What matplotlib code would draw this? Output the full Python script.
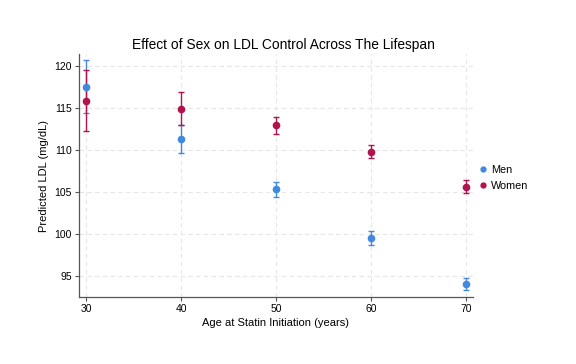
import matplotlib
matplotlib.use("Agg")
import matplotlib.pyplot as plt
from matplotlib.lines import Line2D

plt.rcParams['font.family'] = ['Liberation Sans', 'DejaVu Sans']

ages = [30, 40, 50, 60, 70]
men = [117.5, 111.3, 105.3, 99.5, 94.1]
men_lo = [114.4, 109.6, 104.4, 98.7, 93.3]
men_hi = [120.7, 113.0, 106.2, 100.3, 94.8]
women = [115.8, 114.9, 112.9, 109.8, 105.6]
women_lo = [112.3, 112.9, 111.9, 109.0, 104.9]
women_hi = [119.5, 116.9, 113.9, 110.6, 106.4]
yticks = [95, 100, 105, 110, 115, 120]

men_c = '#4189DD'
women_c = '#B3124E'

fig = plt.figure(figsize=(5.76, 3.64), dpi=100)
ax = fig.add_axes([79/576, 1-297/364, (473-79)/576, (297-54)/364])

for vals, lo, hi, c, lab in [(men, men_lo, men_hi, men_c, 'Men'),
                             (women, women_lo, women_hi, women_c, 'Women')]:
    err = [[v - l for v, l in zip(vals, lo)], [h - v for v, h in zip(vals, hi)]]
    ax.errorbar(ages, vals, yerr=err, fmt='o', color=c, ms=4.5, elinewidth=1,
                capsize=2.5, capthick=1, label=lab, ecolor=c)

ax.set_xlim(29.27, 70.7)
ax.set_ylim(92.5, 121.4)
ax.set_xticks(ages)
ax.set_yticks(yticks)
ax.grid(True, color='#e6e6e6', linestyle=(0, (4, 3)), linewidth=0.8)
ax.set_axisbelow(True)
for s in ['top', 'right']:
    ax.spines[s].set_visible(False)
for s in ['left', 'bottom']:
    ax.spines[s].set_color('#555555')
    ax.spines[s].set_linewidth(0.9)
ax.tick_params(labelsize=7.5, length=3, color='#555555', width=0.8, pad=2)
ax.set_xlabel('Age at Statin Initiation (years)', fontsize=8, labelpad=3)
ax.set_ylabel('Predicted LDL (mg/dL)', fontsize=8, labelpad=4)
fig.text(283/576, 1-45/364, 'Effect of Sex on LDL Control Across The Lifespan',
         ha='center', va='center', fontsize=9.9)

handles = [Line2D([], [], marker='o', linestyle='', color=men_c, ms=3.5),
           Line2D([], [], marker='o', linestyle='', color=women_c, ms=3.5)]
fig.legend(handles, ['Men', 'Women'], loc='center left',
           bbox_to_anchor=(478/576, 1-178/364), frameon=False, fontsize=7.8,
           handletextpad=0.2, labelspacing=0.55, handlelength=1.0,
           borderaxespad=0, borderpad=0)

fig.savefig('out.png', dpi=100)
